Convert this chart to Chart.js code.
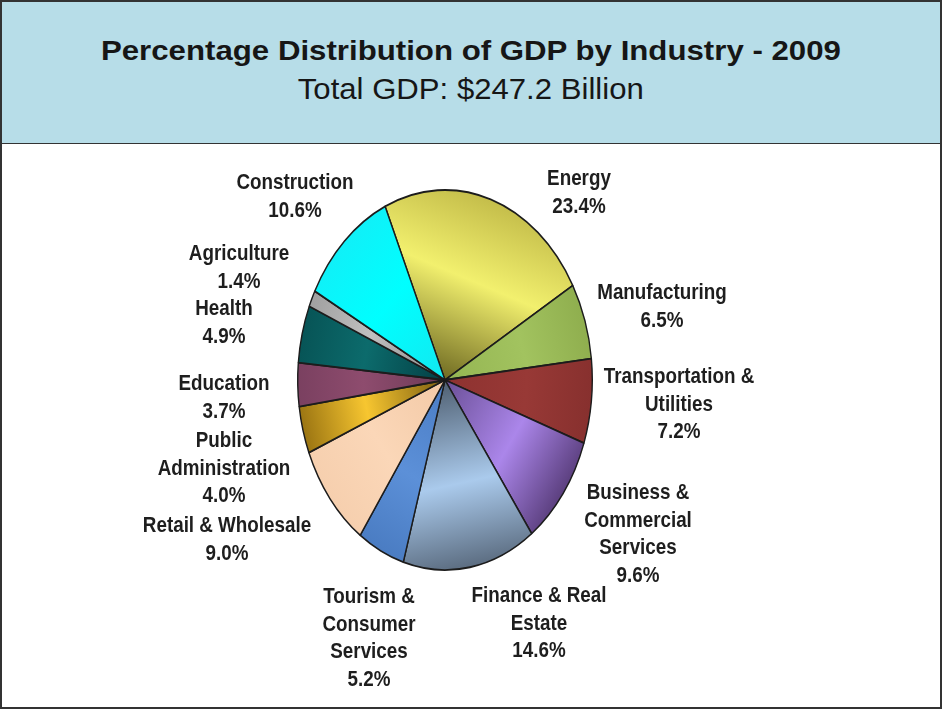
<!DOCTYPE html>
<html>
<head>
<meta charset="utf-8">
<script src="https://cdn.jsdelivr.net/npm/chart.js@4"></script>
<style>
  body { margin: 0; background: #fff; }
  #frame { position: relative; width: 942px; height: 709px; overflow: hidden; }
  #head {
    position: absolute; left: 0; top: 0; width: 938px; height: 141px;
    background: #b7dde8; border: 2px solid #333; border-bottom-width: 3px;
  }
  #foot {
    position: absolute; left: 0; top: 144px; width: 938px; height: 563px;
    border: 2px solid #333; border-top: none; background: #fff;
  }
  .tl { position: absolute; left: 0; width: 942px; text-align: center; white-space: nowrap; line-height: 1;
        font-family: "Liberation Sans", Arial, sans-serif; color: #161616; }
  .tl span { display: inline-block; transform-origin: center; }
  #t1 { top: 37px; font-size: 28px; font-weight: bold; }
  #t2 { top: 74px; font-size: 30px; }
  canvas { position: absolute; left: 0; top: 0; }
</style>
</head>
<body>
<div id="frame">
  <div id="head"></div>
  <div id="foot"></div>
  <div class="tl" id="t1"><span>Percentage Distribution of GDP by Industry - 2009</span></div>
  <div class="tl" id="t2"><span>Total GDP: $247.2 Billion</span></div>
  <canvas id="gdp-chart" width="942" height="709"></canvas>
</div>
<script>
// data
const categories = ['Energy', 'Manufacturing', 'Transportation & Utilities', 'Business & Commercial Services',
  'Finance & Real Estate', 'Tourism & Consumer Services', 'Retail & Wholesale', 'Public Administration',
  'Education', 'Health', 'Agriculture', 'Construction'];
const shares = [23.4, 6.5, 7.2, 9.6, 14.6, 5.2, 9.0, 4.0, 3.7, 4.9, 1.4, 10.6];
const labelLines = [['Energy'], ['Manufacturing'], ['Transportation &', 'Utilities'],
  ['Business &', 'Commercial', 'Services'], ['Finance & Real', 'Estate'], ['Tourism &', 'Consumer', 'Services'],
  ['Retail & Wholesale'], ['Public', 'Administration'], ['Education'], ['Health'], ['Agriculture'], ['Construction']];

// layout / style (not data)
const startAngle = -24;
const squash = 1.29;  // pie is drawn as an ellipse
const labelOffsets = [[134, -201], [217, -87], [234, -3], [193, 113], [94, 216], [-76, 217],
  [-218, 146], [-221, 61], [-221, 4], [-221, -71], [-206, -126], [-150, -197]];
const shades = [
  ['#6f6a22', '#f2f06e', '#c4bd4a'],
  ['#94b552', '#a2c35f', '#8fae4e'],
  ['#8e3230', '#983936', '#87302e'],
  ['#6a4f96', '#ab86ea', '#5b3f7e'],
  ['#4e5e70', '#aacaec', '#5b6c80'],
  ['#4a7cc4', '#5c90d8', '#4a7cc2'],
  ['#f3c9a6', '#fbd7b8', '#f6cfae'],
  ['#7a5c10', '#f7c630', '#9a7412'],
  ['#6d3a56', '#8e4c6e', '#7a4060'],
  ['#033f44', '#0c6b6c', '#075456'],
  ['#8a8a8a', '#c0c0c0', '#a0a0a0'],
  ['#12e8f0', '#00ffff', '#10f0f8']
];

function fitTitle(id, target) {
  const span = document.querySelector('#' + id + ' span');
  const w = span.getBoundingClientRect().width;
  span.style.transform = 'scaleX(' + (target / w) + ')';
}
fitTitle('t1', 740);
fitTitle('t2', 346);

function sliceFill(c) {
  const chart = c.chart;
  const i = c.dataIndex;
  if (!chart.chartArea) return shades[i][1];
  const a = chart.chartArea;
  const cx = (a.left + a.right) / 2, cy = (a.top + a.bottom) / 2;
  const r = Math.min(a.right - a.left, a.bottom - a.top) / 2;
  const total = shares.reduce((s, v) => s + v, 0);
  let before = 0;
  for (let k = 0; k < i; k++) before += shares[k];
  const mid = (startAngle - 90 + (before + shares[i] / 2) / total * 360) * Math.PI / 180;
  const g = chart.ctx.createLinearGradient(cx, cy, cx + r * Math.cos(mid), cy + r * Math.sin(mid));
  g.addColorStop(0, shades[i][0]);
  g.addColorStop(0.55, shades[i][1]);
  g.addColorStop(1, shades[i][2]);
  return g;
}

const ellipse = {
  id: 'ellipse',
  beforeDatasetsDraw(chart) {
    const a = chart.chartArea;
    const cx = (a.left + a.right) / 2, cy = (a.top + a.bottom) / 2;
    chart.ctx.save();
    chart.ctx.translate(cx, cy);
    chart.ctx.scale(1, squash);
    chart.ctx.translate(-cx, -cy);
  },
  afterDatasetsDraw(chart) {
    chart.ctx.restore();
  }
};

const sliceLabels = {
  id: 'sliceLabels',
  afterDraw(chart) {
    const ctx = chart.ctx;
    const a = chart.chartArea;
    const cx = (a.left + a.right) / 2, cy = (a.top + a.bottom) / 2;
    ctx.save();
    ctx.fillStyle = '#1e1e1e';
    ctx.font = 'bold 22px "Liberation Sans", Arial, sans-serif';
    ctx.textAlign = 'center';
    ctx.textBaseline = 'middle';
    labelLines.forEach(function (lines, i) {
      const all = lines.concat([shares[i].toFixed(1) + '%']);
      all.forEach(function (txt, j) {
        ctx.save();
        ctx.translate(cx + labelOffsets[i][0], cy + labelOffsets[i][1] + j * 27.7);
        ctx.scale(0.855, 1);
        ctx.fillText(txt, 0, 0);
        ctx.restore();
      });
    });
    ctx.restore();
  }
};

const canvas = document.getElementById('gdp-chart');
if (canvas) {
  window.gdpChart = new Chart(canvas.getContext('2d'), {
    type: 'pie',
    data: {
      labels: categories,
      datasets: [{
        data: shares,
        backgroundColor: sliceFill,
        borderColor: '#1c1c1c',
        borderWidth: 1.4,
        clip: false
      }]
    },
    options: {
      responsive: false,
      animation: false,
      rotation: startAngle,
      layout: { padding: { left: 297, right: 349, top: 231, bottom: 180 } },
      plugins: {
        legend: { display: false },
        tooltip: { enabled: false }
      }
    },
    plugins: [ellipse, sliceLabels]
  });
}
</script>
</body>
</html>
